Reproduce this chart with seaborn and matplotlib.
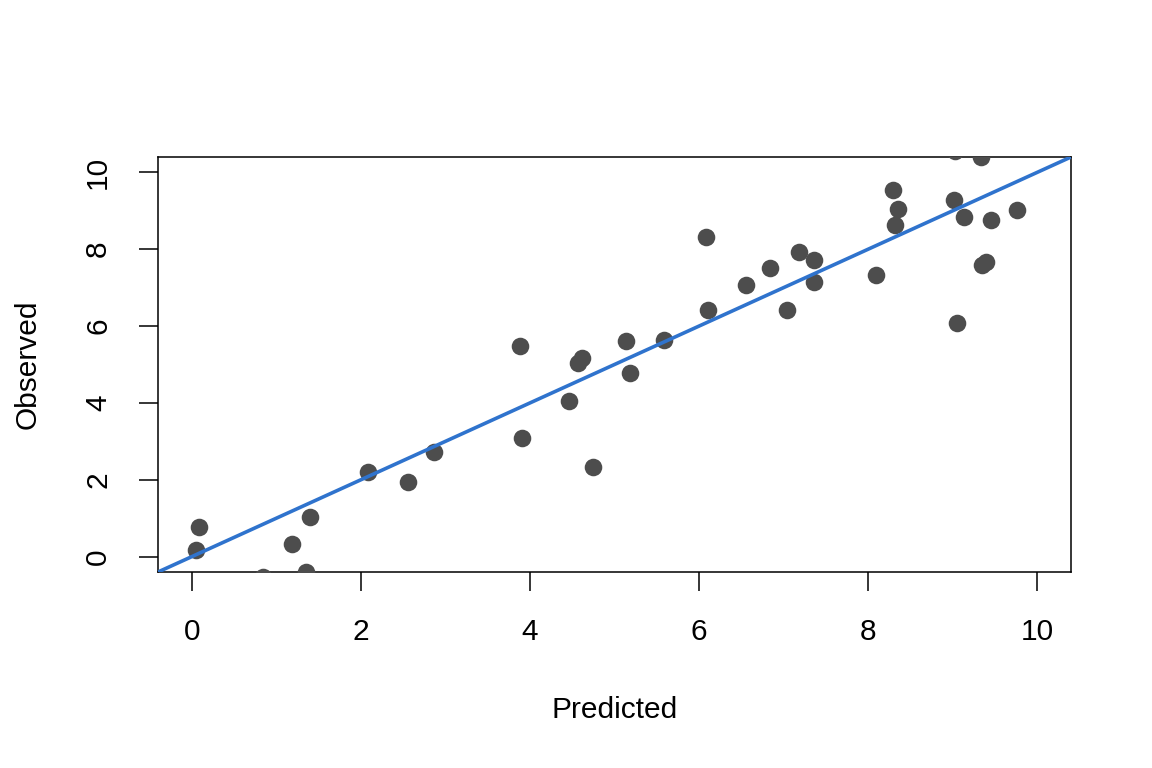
import matplotlib
matplotlib.use("Agg")
import matplotlib.pyplot as plt
import seaborn as sns
import pandas as pd

predicted = [0.08, 0.05, 0.84, 1.18, 1.35, 1.40, 2.08, 2.56, 2.86, 3.88,
             3.90, 4.46, 4.57, 4.62, 4.75, 5.14, 5.18, 5.59, 6.11, 6.08,
             6.56, 6.84, 7.04, 7.18, 7.36, 7.36, 8.09, 8.29, 8.32, 8.35,
             9.02, 9.05, 9.13, 9.03, 9.33, 9.35, 9.39, 9.45, 9.76]
observed = [0.78, 0.16, -0.52, 0.34, -0.39, 1.04, 2.19, 1.95, 2.71, 5.47,
            3.10, 4.06, 5.05, 5.16, 2.34, 5.60, 4.77, 5.65, 6.41, 8.33,
            7.06, 7.50, 6.43, 7.92, 7.71, 7.14, 7.34, 9.53, 8.62, 9.04,
            9.27, 6.09, 8.85, 10.55, 10.39, 7.60, 7.68, 8.75, 9.01]
ticks = [0, 2, 4, 6, 8, 10]
tick_labels = ["0", "2", "4", "6", "8", "10"]

df = pd.DataFrame({"Predicted": predicted, "Observed": observed})

sns.set_style("white")
plt.rcParams["font.family"] = ["Liberation Sans", "DejaVu Sans"]

fig = plt.figure(figsize=(11.52, 7.68), dpi=100)
ax = fig.add_axes([158/1152, 1 - 572/768, (1071 - 158)/1152, (572 - 157)/768])

sns.scatterplot(data=df, x="Predicted", y="Observed", ax=ax, color="#4D4D4D",
                s=160, linewidth=0, zorder=3)
ax.axline((0, 0), slope=1, color="#2F73CD", linewidth=2.6, zorder=4)

ax.set_xlim(-0.4, 10.4)
ax.set_ylim(-0.4, 10.4)
ax.set_xticks(ticks)
ax.set_xticklabels(tick_labels)
ax.set_yticks(ticks)
ax.set_yticklabels(tick_labels, rotation=90, va="center")

for sp in ax.spines.values():
    sp.set_visible(True)
    sp.set_color("black")
    sp.set_linewidth(1.1)

ax.tick_params(axis="both", direction="out", length=14, width=1.1, colors="black",
               labelsize=21.5, pad=19, bottom=True, left=True)

ax.set_xlabel("Predicted", fontsize=21.5, color="black")
ax.set_ylabel("Observed", fontsize=21.5, color="black")
ax.xaxis.set_label_coords(0.5, (572 - 696) / 415)
ax.yaxis.set_label_coords((42 - 158) / 913, 0.5)

fig.savefig("out.png", dpi=100, facecolor="white")
